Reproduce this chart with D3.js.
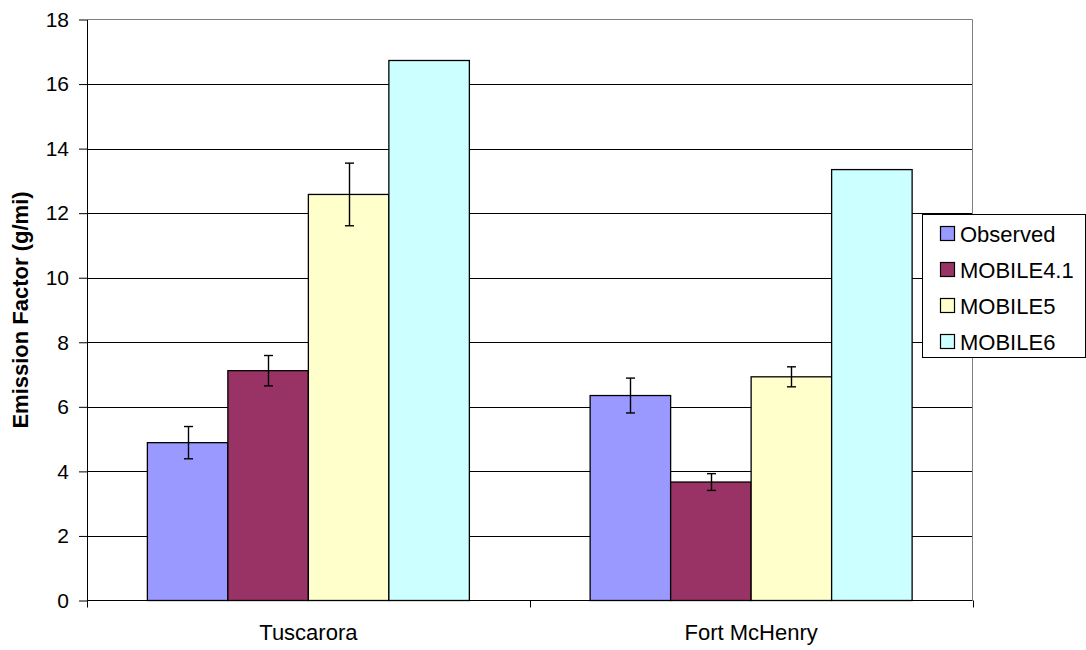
<!DOCTYPE html>
<html>
<head>
<meta charset="utf-8">
<script src="https://cdn.jsdelivr.net/npm/d3@7"></script>
<style>
  html, body { margin: 0; padding: 0; background: #fff; }
  svg { display: block; font-family: "Liberation Sans", Arial, sans-serif; }
</style>
</head>
<body>
<svg id="chart" width="1086" height="650"></svg>
<script>
const categories = ["Tuscarora", "Fort McHenry"];
const seriesNames = ["Observed", "MOBILE4.1", "MOBILE5", "MOBILE6"];
const seriesColors = ["#9999FF", "#993366", "#FFFFCC", "#CCFFFF"];
// values[series][category]
const observed  = [4.89, 6.35];
const mobile41  = [7.12, 3.67];
const mobile5   = [12.58, 6.93];
const mobile6   = [16.73, 13.35];
const errObserved = [0.50, 0.54];
const errMobile41 = [0.47, 0.26];
const errMobile5  = [0.97, 0.31];
const errMobile6  = [null, null];
const yTicks = [0, 2, 4, 6, 8, 10, 12, 14, 16, 18];

const values = [observed, mobile41, mobile5, mobile6];
const errors = [errObserved, errMobile41, errMobile5, errMobile6];

const svg = d3.select("#chart");
const L = 87, R = 972.5, T = 19.5, B = 600.5;

const x0 = d3.scaleBand().domain(categories).range([L, R]).padding(0);
const x1 = d3.scaleBand().domain(seriesNames).range([0, x0.bandwidth()])
  .paddingInner(0).paddingOuter(0.75);
const y = d3.scaleLinear().domain([0, 18]).range([B, T]);

// gridlines
svg.append("g").selectAll("line").data(yTicks.filter(v => v > 0 && v < 18)).join("line")
  .attr("x1", L).attr("x2", R)
  .attr("y1", d => Math.round(y(d)) + 0.5).attr("y2", d => Math.round(y(d)) + 0.5)
  .attr("stroke", "#000").attr("stroke-width", 1);

// plot border (top, right)
svg.append("path")
  .attr("d", `M${L},${T}H${R}V${B}`)
  .attr("fill", "none").attr("stroke", "#808080").attr("stroke-width", 1);

// bars
const rows = [];
categories.forEach((c, ci) => seriesNames.forEach((s, si) => {
  rows.push({c, s, si, v: values[si][ci], e: errors[si][ci]});
}));
svg.append("g").selectAll("rect").data(rows).join("rect")
  .attr("x", d => x0(d.c) + x1(d.s))
  .attr("y", d => y(d.v))
  .attr("width", x1.bandwidth())
  .attr("height", d => y(0) - y(d.v))
  .attr("fill", d => seriesColors[d.si])
  .attr("stroke", "#000").attr("stroke-width", 1.3);

// error bars
const eg = svg.append("g").attr("stroke", "#000").attr("stroke-width", 1.4);
rows.filter(d => d.e != null).forEach(d => {
  const cx = Math.round(x0(d.c) + x1(d.s) + x1.bandwidth() / 2) + 0.5;
  const yt = y(d.v + d.e), yb = y(d.v - d.e);
  eg.append("line").attr("x1", cx).attr("x2", cx).attr("y1", yt).attr("y2", yb);
  eg.append("line").attr("x1", cx - 4.5).attr("x2", cx + 4.5).attr("y1", yt).attr("y2", yt);
  eg.append("line").attr("x1", cx - 4.5).attr("x2", cx + 4.5).attr("y1", yb).attr("y2", yb);
});

// left axis
const yAxis = svg.append("g").attr("transform", `translate(${L},0)`)
  .call(d3.axisLeft(y).tickValues(yTicks).tickSize(8).tickSizeOuter(0).tickPadding(10));
yAxis.select(".domain").attr("stroke", "#000");
yAxis.selectAll(".tick line").attr("stroke", "#000");
yAxis.selectAll("text").attr("font-size", 21).attr("fill", "#000")
  .attr("font-family", "Liberation Sans, Arial, sans-serif");

// bottom axis
const xb = svg.append("g").attr("stroke", "#000").attr("stroke-width", 1);
xb.append("line").attr("x1", L).attr("x2", R).attr("y1", B).attr("y2", B);
const bounds = [L].concat(categories.map(c => x0(c) + x0.bandwidth()));
xb.selectAll(".bt").data(bounds).join("line").attr("class", "bt")
  .attr("x1", d => Math.round(d) + 0.5).attr("x2", d => Math.round(d) + 0.5)
  .attr("y1", B).attr("y2", B + 7);
svg.append("g").selectAll("text").data(categories).join("text")
  .attr("x", d => x0(d) + x0.bandwidth() / 2)
  .attr("y", 640)
  .attr("text-anchor", "middle")
  .attr("font-size", 22)
  .attr("fill", "#000")
  .text(d => d);

// y title
svg.append("text")
  .attr("transform", `translate(28,${(T + B) / 2}) rotate(-90)`)
  .attr("text-anchor", "middle")
  .attr("font-size", 22)
  .attr("font-weight", "bold")
  .attr("fill", "#000")
  .text("Emission Factor (g/mi)");

// legend
const lg = svg.append("g");
lg.append("rect").attr("x", 922.5).attr("y", 214.5).attr("width", 163).attr("height", 143)
  .attr("fill", "#fff").attr("stroke", "#000").attr("stroke-width", 1);
const legendY = d3.scalePoint().domain(seriesNames).range([233.5, 341.5]);
seriesNames.forEach((s, i) => {
  const cy = legendY(s);
  lg.append("rect").attr("x", 940.5).attr("y", cy - 7).attr("width", 14).attr("height", 14)
    .attr("fill", seriesColors[i]).attr("stroke", "#000").attr("stroke-width", 1.2);
  lg.append("text").attr("x", 960).attr("y", cy + 8)
    .attr("font-size", 22).attr("fill", "#000").text(s);
});
</script>
</body>
</html>
